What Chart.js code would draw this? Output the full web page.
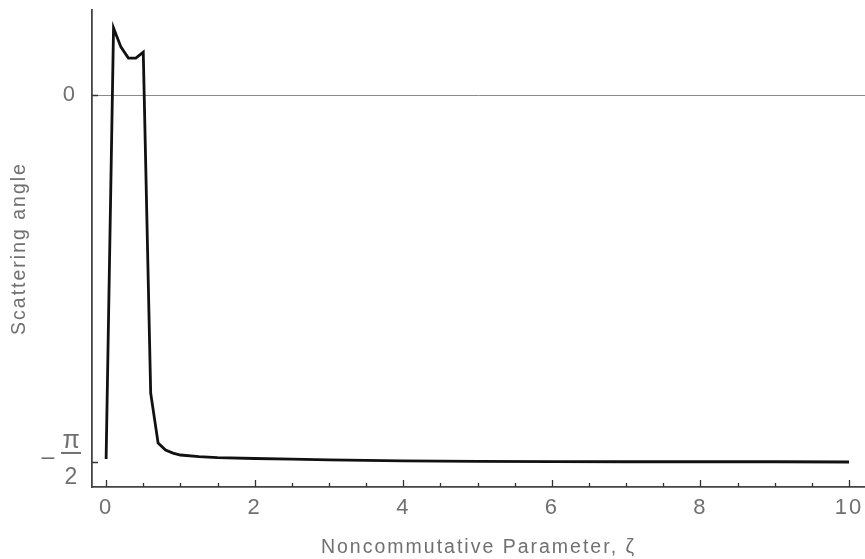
<!DOCTYPE html>
<html lang="en">
  <head>
    <meta charset="UTF-8" />
    <title>Scattering angle</title>
    <script src="https://cdn.jsdelivr.net/npm/chart.js"></script>
    <style>
      html, body { margin: 0; padding: 0; background: #fff; overflow: hidden; }
      .graph { width: 865px; height: 559px; }
    </style>
  </head>
  <body>
    <div class="graph">
      <canvas id="myChart" width="865" height="559"></canvas>
    </div>

<script>
  // values
  var zeta = [0, 0.1, 0.2, 0.3, 0.4, 0.5, 0.6, 0.7, 0.8, 0.9, 1.0, 1.25, 1.5, 2, 2.5, 3, 4, 5, 6, 7, 8, 9, 10];
  var angle = [-1.558, 0.287, 0.205, 0.158, 0.158, 0.184, -1.276, -1.490, -1.520, -1.533, -1.541, -1.548, -1.552, -1.556, -1.559, -1.562, -1.566, -1.568, -1.569, -1.570, -1.570, -1.570, -1.571];

  var xLabels = [0, 2, 4, 6, 8, 10];
  var xMinorTicks = [0.5, 1, 1.5, 2.5, 3, 3.5, 4.5, 5, 5.5, 6.5, 7, 7.5, 8.5, 9, 9.5];
  var yTicks = [0, -Math.PI / 2];

  var grey = "#707070";
  var font = "Liberation Sans, Arial, sans-serif";

  var points = [];
  for (var i = 0; i < zeta.length; i++) {
    points.push({ x: zeta[i], y: angle[i] });
  }

  // inward tick marks, zero line and the -pi/2 fraction label
  var extras = {
    id: "extras",
    beforeDraw: function (chart) {
      chart.ctx.letterSpacing = "2px";
    },
    beforeDatasetsDraw: function (chart) {
      var ctx = chart.ctx;
      var xs = chart.scales.x;
      var ys = chart.scales.y;
      var area = chart.chartArea;
      ctx.save();
      // zero line
      ctx.strokeStyle = "#8a8a8a";
      ctx.lineWidth = 1;
      var y0 = Math.round(ys.getPixelForValue(0)) + 0.5;
      ctx.beginPath();
      ctx.moveTo(area.left, y0);
      ctx.lineTo(area.right, y0);
      ctx.stroke();

      ctx.strokeStyle = "#333";
      ctx.lineWidth = 1.3;
      ctx.beginPath();
      for (var i = 0; i < xLabels.length; i++) {
        var px = Math.round(xs.getPixelForValue(xLabels[i])) + 0.5;
        ctx.moveTo(px, area.bottom);
        ctx.lineTo(px, area.bottom - 7);
      }
      for (var j = 0; j < xMinorTicks.length; j++) {
        var mx = Math.round(xs.getPixelForValue(xMinorTicks[j])) + 0.5;
        ctx.moveTo(mx, area.bottom);
        ctx.lineTo(mx, area.bottom - 4);
      }
      for (var k = 0; k < yTicks.length; k++) {
        var py = Math.round(ys.getPixelForValue(yTicks[k])) + 0.5;
        ctx.moveTo(area.left, py);
        ctx.lineTo(area.left + 6, py);
      }
      ctx.stroke();
      ctx.restore();
    },
    afterDraw: function (chart) {
      var ctx = chart.ctx;
      var ys = chart.scales.y;
      var py = ys.getPixelForValue(-Math.PI / 2);
      ctx.save();
      ctx.letterSpacing = "0px";
      ctx.fillStyle = grey;
      ctx.strokeStyle = grey;
      ctx.textAlign = "center";
      ctx.textBaseline = "middle";
      ctx.font = "25px " + font;
      ctx.fillText("\u03C0", 71, py - 21);
      ctx.font = "23px " + font;
      ctx.fillText("2", 71, py + 16);
      ctx.fillText("\u2013", 48, py - 4);
      ctx.lineWidth = 2;
      ctx.beginPath();
      ctx.moveTo(61, py - 9);
      ctx.lineTo(81, py - 9);
      ctx.stroke();
      ctx.restore();
    }
  };

  const ctx = document.getElementById("myChart");
  new Chart(ctx, {
    type: "line",
    data: {
      datasets: [
        {
          data: points,
          borderColor: "#111",
          borderWidth: 2.8,
          pointRadius: 0,
          fill: false,
          tension: 0,
        },
      ],
    },
    options: {
      responsive: false,
      animation: false,
      devicePixelRatio: 1,
      layout: { padding: { top: 10, right: 0, left: 0, bottom: 0 } },
      plugins: {
        legend: { display: false },
        tooltip: { enabled: false },
      },
      scales: {
        x: {
          type: "linear",
          min: -0.19,
          max: 10.215,
          afterBuildTicks: function (scale) {
            scale.ticks = xLabels.map(function (v) { return { value: v }; });
          },
          afterFit: function (scale) {
            scale.height = 72;
            scale.paddingLeft = 0;
            scale.paddingRight = 0;
          },
          grid: { display: false },
          border: { display: true, color: "#444", width: 1.8 },
          ticks: {
            color: grey,
            font: { size: 22, family: font },
            padding: 0,
            maxRotation: 0,
            autoSkip: false,
          },
          title: {
            display: true,
            text: "Noncommutative Parameter, \u03B6",
            color: grey,
            font: { size: 19.5, family: font },
            padding: { top: 4, bottom: 0 },
          },
        },
        y: {
          type: "linear",
          min: -1.678,
          max: 0.364,
          afterBuildTicks: function (scale) {
            scale.ticks = yTicks.map(function (v) { return { value: v }; });
          },
          afterFit: function (scale) {
            scale.width = 92;
            scale.paddingTop = 0;
            scale.paddingBottom = 0;
          },
          grid: { display: false },
          border: { display: true, color: "#444", width: 1.8 },
          ticks: {
            color: grey,
            font: { size: 22, family: font },
            padding: 7,
            callback: function (v) { return v === 0 ? "0" : ""; },
          },
          title: {
            display: true,
            text: "Scattering angle",
            color: grey,
            font: { size: 19.5, family: font },
            padding: { top: 8, bottom: 0 },
          },
        },
      },
    },
    plugins: [extras],
  });
</script>
  </body>
</html>
